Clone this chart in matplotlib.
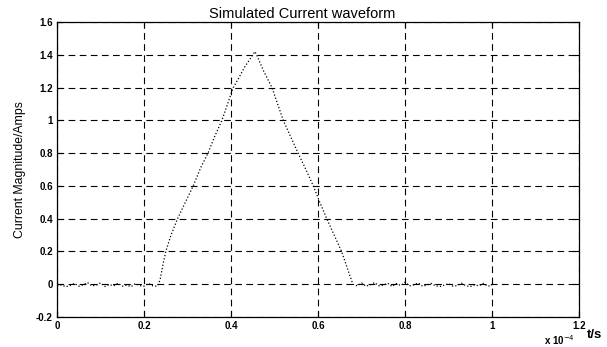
import numpy as np
import matplotlib
matplotlib.use('Agg')
import matplotlib.pyplot as plt
from matplotlib.ticker import ScalarFormatter

plt.rcParams['font.family'] = ['Liberation Sans', 'DejaVu Sans']

# time in units of 1e-4 s, current in A
t_pre = [0.0, 0.01, 0.02, 0.03, 0.04, 0.05, 0.06, 0.07, 0.08, 0.09, 0.10, 0.11,
         0.12, 0.13, 0.14, 0.15, 0.16, 0.17, 0.18, 0.19, 0.20, 0.21, 0.22, 0.23]
i_pre = [-0.01, -0.005, -0.015, -0.008, 0.005, -0.012, -0.004, 0.01, -0.01, -0.006,
         0.008, -0.014, -0.002, -0.01, 0.006, -0.012, -0.005, -0.015, 0.004, -0.008,
         -0.012, 0.005, -0.01, -0.012]

t_pulse = [0.233, 0.237, 0.245, 0.25, 0.262, 0.277, 0.295, 0.313, 0.33, 0.347,
           0.362, 0.379, 0.392, 0.405, 0.418, 0.43, 0.445, 0.455, 0.462, 0.475,
           0.494, 0.507, 0.52, 0.537, 0.554, 0.572, 0.589, 0.604, 0.62, 0.637,
           0.654, 0.667, 0.68]
i_pulse = [0.0, 0.03, 0.14, 0.2, 0.3, 0.4, 0.5, 0.6, 0.71, 0.8,
           0.9, 1.0, 1.1, 1.2, 1.26, 1.32, 1.38, 1.42, 1.38, 1.3,
           1.2, 1.1, 1.0, 0.9, 0.8, 0.7, 0.6, 0.5, 0.4, 0.3,
           0.2, 0.1, 0.0]

t_post = [0.69, 0.70, 0.71, 0.72, 0.73, 0.74, 0.75, 0.76, 0.77, 0.78, 0.79, 0.80,
          0.81, 0.82, 0.83, 0.84, 0.85, 0.86, 0.87, 0.88, 0.89, 0.90, 0.91, 0.92,
          0.93, 0.94, 0.95, 0.96, 0.97, 0.98, 0.99, 1.0]
i_post = [-0.01, 0.008, -0.012, -0.004, 0.01, -0.01, -0.006, 0.006, -0.014, 0.004,
          -0.008, 0.012, -0.01, -0.004, 0.008, -0.012, -0.006, 0.005, -0.01, -0.014,
          -0.006, 0.004, -0.012, -0.008, 0.006, -0.01, -0.014, -0.004, -0.01, 0.005,
          -0.012, -0.008]

t = np.array(t_pre + t_pulse + t_post) * 1e-4
i = np.array(i_pre + i_pulse + i_post)

fig = plt.figure(figsize=(6.07, 3.47), dpi=100)
ax = fig.add_axes([0.094, 0.0865, 0.86, 0.85])

ax.plot(t, i, color='black', lw=0.9, ls=':')

ax.set_xlim(0, 1.2e-4)
ax.set_ylim(-0.2, 1.6)
ax.set_xticks(np.arange(0, 1.21e-4, 0.2e-4))
ax.set_yticks(np.arange(-0.2, 1.61, 0.2))
fmt = ScalarFormatter(useMathText=False)
fmt.set_powerlimits((-3, 3))
ax.xaxis.set_major_formatter(fmt)
ax.xaxis.get_offset_text().set_visible(False)
ax.set_xticklabels(['0', '0.2', '0.4', '0.6', '0.8', '1', '1.2'])
ax.set_yticklabels(['-0.2', '0', '0.2', '0.4', '0.6', '0.8', '1', '1.2', '1.4', '1.6'])

ax.grid(True, color='black', ls=(0, (6, 4)), lw=0.8)
ax.tick_params(direction='in', length=4, labelsize=7, top=True, right=True, pad=3)
for lab in ax.get_xticklabels() + ax.get_yticklabels():
    lab.set_fontweight('bold')
for s in ax.spines.values():
    s.set_linewidth(0.9)

ax.set_title('Simulated Current waveform', fontsize=10.5, pad=3, x=0.47)
ax.set_ylabel('Current Magnitude/Amps', fontsize=8.8, labelpad=7)
fig.text(0.922, 0.02, r'x 10$^{-4}$', fontsize=7, fontweight='bold',
         ha='center', va='center')
fig.text(0.98, 0.036, 't/s', fontsize=9.5, fontweight='bold', ha='center', va='center')

fig.savefig('out.png', dpi=100)
